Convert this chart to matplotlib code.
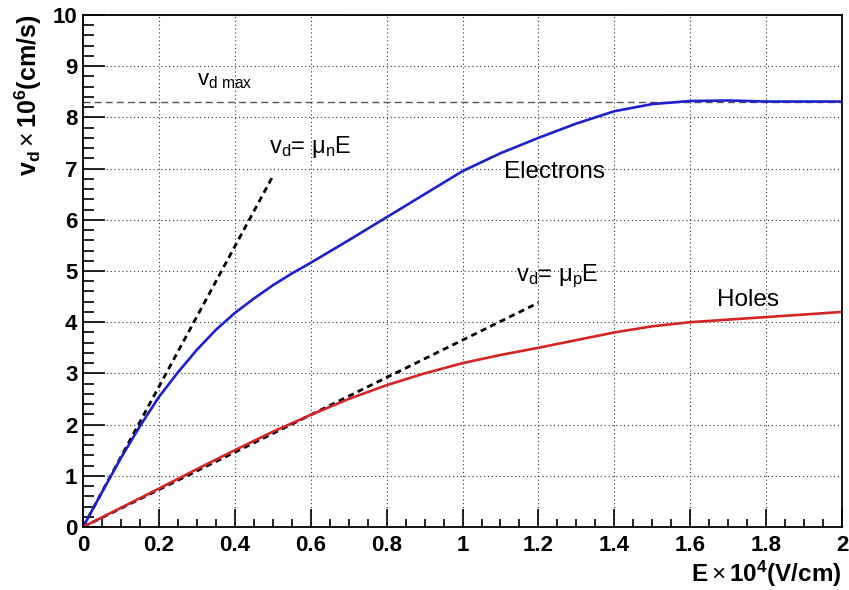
import matplotlib
matplotlib.use("Agg")
import matplotlib.pyplot as plt
from matplotlib.ticker import MultipleLocator

plt.rcParams['font.family'] = ['Liberation Sans', 'DejaVu Sans']
plt.rcParams['mathtext.fontset'] = 'custom'
plt.rcParams['mathtext.rm'] = 'Liberation Sans'
plt.rcParams['mathtext.it'] = 'Liberation Sans:italic'
plt.rcParams['mathtext.bf'] = 'Liberation Sans:bold'

# drift velocity vs field (E in 1e4 V/cm, v in 1e6 cm/s)
e_field = [0, 0.05, 0.1, 0.15, 0.2, 0.25, 0.3, 0.35, 0.4, 0.45, 0.5, 0.55, 0.6,
           0.7, 0.8, 0.9, 1.0, 1.1, 1.2, 1.3, 1.4, 1.5, 1.6, 1.7, 1.8, 1.9, 2.0]
v_electrons = [0, 0.68, 1.35, 1.97, 2.54, 3.02, 3.46, 3.85, 4.18, 4.46, 4.72, 4.95, 5.16,
               5.6, 6.05, 6.5, 6.95, 7.3, 7.6, 7.88, 8.12, 8.26, 8.32, 8.33, 8.31, 8.31, 8.31]

h_field = [0, 0.1, 0.2, 0.3, 0.4, 0.5, 0.6, 0.7, 0.8, 0.9, 1.0,
           1.1, 1.2, 1.3, 1.4, 1.5, 1.6, 1.7, 1.8, 1.9, 2.0]
v_holes = [0, 0.375, 0.75, 1.13, 1.5, 1.86, 2.19, 2.5, 2.77, 3.0, 3.2,
           3.36, 3.5, 3.65, 3.8, 3.92, 4.0, 4.05, 4.1, 4.15, 4.2]

# low-field linear approximations v = mu * E
mu_n_line = ([0, 0.5], [0, 6.85])
mu_p_line = ([0, 1.2], [0, 4.38])
v_sat = 8.31

fig = plt.figure(figsize=(8.49, 5.90), dpi=100)
ax = fig.add_axes([0.0978, 0.1068, 0.894, 0.8678])

ax.plot([0, 2], [v_sat, v_sat], color='#555555', lw=1.0, dashes=(5, 3))
ax.plot(*mu_n_line, color='black', lw=2.0, dashes=(2.2, 1.6))
ax.plot(*mu_p_line, color='black', lw=2.0, dashes=(2.2, 1.6))
ax.plot(e_field, v_electrons, color='#2020c8', lw=1.9)
ax.plot(h_field, v_holes, color='#d42424', lw=1.9)

ax.set_xlim(0, 2)
ax.set_ylim(0, 10)
ax.xaxis.set_minor_locator(MultipleLocator(0.05))
ax.yaxis.set_major_locator(MultipleLocator(1))
ax.yaxis.set_minor_locator(MultipleLocator(0.2))
ax.set_xticks([0, 0.2, 0.4, 0.6, 0.8, 1, 1.2, 1.4, 1.6, 1.8, 2])
ax.set_xticklabels(['0', '0.2', '0.4', '0.6', '0.8', '1', '1.2', '1.4', '1.6', '1.8', '2'])

ax.tick_params(which='both', direction='in', top=False, right=False,
               labelsize=16, width=1.2)
ax.tick_params(axis='y', which='major', length=16, pad=4)
ax.tick_params(axis='y', which='minor', length=8)
ax.tick_params(axis='x', which='major', length=13, pad=6)
ax.tick_params(axis='x', which='minor', length=6)
for lab in ax.get_xticklabels() + ax.get_yticklabels():
    lab.set_fontweight('bold')

ax.grid(True, which='major', color='#333333', lw=0.8, linestyle=(0, (1, 2.5)))
for s in ax.spines.values():
    s.set_linewidth(1.3)

ax.set_xlabel(r'$\mathbf{E}\times\mathbf{10^{4}(V/cm)}$', fontsize=17.5, loc='right', labelpad=2)
ax.set_ylabel(r'$\mathbf{v_{d}}\times\mathbf{10^{6}(cm/s)}$', fontsize=18, loc='top', labelpad=6)

ax.text(0.30, 8.72, r'v$_\mathrm{d\ max}$', fontsize=16, va='center')
ax.text(0.49, 7.42, r'v$_\mathrm{d}$= μ$_\mathrm{n}$E', fontsize=17, va='center')
ax.text(1.11, 6.93, 'Electrons', fontsize=17.5, va='center')
ax.text(1.14, 4.90, r'v$_\mathrm{d}$= μ$_\mathrm{p}$E', fontsize=17, va='center')
ax.text(1.67, 4.43, 'Holes', fontsize=17.5, va='center')

fig.savefig('out.png', dpi=100)
